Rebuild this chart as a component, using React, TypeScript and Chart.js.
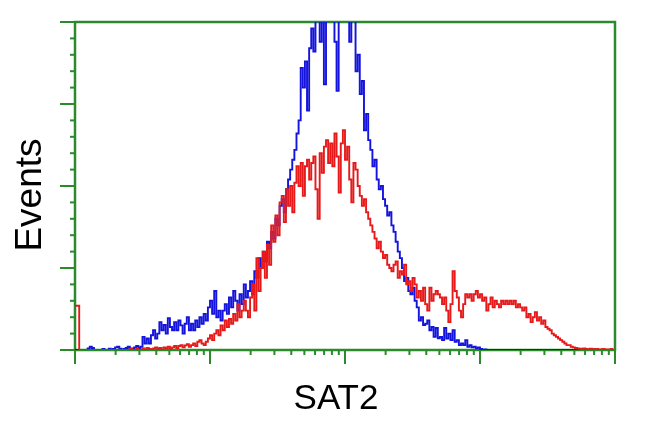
import React, { useEffect, useRef } from "react";
import { Chart, registerables } from "chart.js";

Chart.register(...registerables);

// 256 log-scale channels (64 per decade, 4 decades)
const CHANNELS = 256;
const DECADES = [0, 1, 2, 3, 4];

const redCounts = [
  13.5, 13.5, 0, 0, 0, 0, 0, 0, 0, 0, 0, 0, 0, 0, 0, 0,
  0, 0, 0, 0, 0, 0, 0, 0, 0, 0, 0.3, 0, 0, 0.4, 0, 0,
  0.5, 0, 0.6, 0.3, 0, 0.5, 0.8, 0.3, 0.6, 0, 0.8, 0.5, 1, 0.4, 0.8, 1.2,
  0.6, 1.2, 1.5, 0.8, 1.4, 1.8, 1, 1.5, 2, 1.2, 2.5, 3, 2, 1.5, 2.5, 3.5,
  4.5, 3, 5, 6, 4.5, 7.5, 6, 9, 7, 9.5, 8, 11, 9, 14, 10, 12,
  15, 12, 10, 16, 20, 12, 28, 18, 25, 30, 22, 32, 26, 38, 33, 41,
  35, 45, 47, 39, 49, 44, 50, 42, 51, 56, 50, 57, 47, 56, 58, 52,
  57, 59, 49, 40, 60, 54, 62, 64, 57, 63, 56, 66, 59, 48, 63, 67,
  58, 62, 52, 45, 57, 55, 50, 47, 44, 46, 42, 40, 38, 36, 34, 31,
  33, 30, 28, 29, 26, 25, 24, 26, 27, 22, 24, 23, 26, 20, 21, 18,
  22, 20, 16, 18, 15, 19, 14, 12, 19, 15, 17, 18, 17, 16, 14, 16,
  12, 8.5, 14, 24, 18, 16, 12, 10, 14, 17, 16, 17, 15, 17, 18, 16,
  17, 15, 16, 12, 14, 16, 13, 15, 14, 13, 15, 14, 15, 14, 15, 14,
  15, 13, 14, 13, 12, 13, 10, 11, 8.5, 10, 11.5, 9, 10, 8, 9, 7,
  6.5, 6, 5, 4.5, 4, 3.5, 3, 2.5, 2, 1.5, 1.5, 1, 0.8, 0.6, 0.5, 0.4,
  0.3, 0.5, 0.3, 0.2, 0.4, 0.3, 0.2, 0.3, 0.2, 0.2, 0.3, 0.2, 0.1, 0.2, 0.3, 0.4,
];

const blueCounts = [
  0, 0, 0, 0, 0, 0, 0.5, 1, 0.6, 0, 0, 0, 0, 0.3, 0, 0,
  0.4, 0, 0.3, 0.8, 1, 0.4, 0, 0.3, 0.6, 1, 0.5, 0.3, 0.8, 1.2, 0.6, 1,
  4, 2, 3.5, 2, 4.5, 6, 3.5, 5, 8.5, 6, 7.6, 5, 9.7, 7, 6, 8.5,
  6, 9, 7.5, 5, 8, 10, 6, 8, 6, 9, 7, 10, 8, 11, 9, 13,
  15, 11, 18, 10, 12, 9, 12, 14, 11, 16, 13, 18, 15, 12, 17, 14,
  20, 16, 18, 21, 17, 24, 22, 28, 25, 30, 27, 33, 31, 36, 34, 40,
  38, 44, 46, 42, 49, 52, 55, 58, 61, 66, 70, 86, 80, 88, 73, 92,
  98, 91, 105, 110, 94, 108, 81, 112, 115, 104, 110, 94, 79, 112, 118, 108,
  115, 110, 94, 112, 102, 85, 90, 78, 82, 67, 72, 64, 61, 56, 58, 52,
  49, 50, 46, 44, 41, 42, 38, 36, 33, 30, 28, 25, 21, 22, 18, 17,
  19, 15, 13, 9, 10, 7.6, 8, 9, 6, 7, 4, 6.7, 3.6, 4, 3, 6.7,
  3.5, 5, 3, 6, 2.5, 3, 1.5, 2, 1.5, 3, 1, 1.5, 0.8, 1, 0.5, 0.8,
  0.3, 0, 0.2, 0, 0, 0, 0, 0, 0, 0, 0, 0, 0, 0, 0, 0,
  0, 0, 0, 0, 0, 0, 0, 0, 0, 0, 0, 0, 0, 0, 0, 0,
  0, 0, 0, 0, 0, 0, 0, 0, 0, 0, 0, 0, 0, 0, 0, 0,
  0, 0, 0, 0, 0, 0, 0, 0, 0, 0, 0, 0, 0, 0, 0, 0,
];

const yMajorTicks = [0, 25, 50, 75, 100];
const yMinorStep = 5;
const xTitle = "SAT2";
const yTitle = "Events";

const GREEN = "#2b8a2b";
const BLUE = "#1414dc";
const RED = "#e61a1a";

const axesPlugin = {
  id: "flowAxes",
  beforeDatasetsDraw(chart: any) {
    const { ctx, chartArea, scales } = chart;
    const xs = scales.x;
    const ys = scales.y;
    ctx.save();
    ctx.strokeStyle = GREEN;
    ctx.lineWidth = 2.5;
    ctx.strokeRect(chartArea.left, chartArea.top, chartArea.right - chartArea.left, chartArea.bottom - chartArea.top);
    ctx.lineWidth = 2;
    for (let v = 0; v <= 100; v += yMinorStep) {
      const py = ys.getPixelForValue(v);
      const major = yMajorTicks.includes(v);
      ctx.beginPath();
      ctx.moveTo(chartArea.left, py);
      ctx.lineTo(chartArea.left - (major ? 15 : 5), py);
      ctx.stroke();
    }
    const chPerDecade = CHANNELS / (DECADES.length - 1);
    DECADES.forEach((d, i) => {
      const px = xs.getPixelForValue(d * chPerDecade);
      ctx.beginPath();
      ctx.moveTo(px, chartArea.bottom);
      ctx.lineTo(px, chartArea.bottom + 14);
      ctx.stroke();
      if (i < DECADES.length - 1) {
        for (let k = 2; k <= 9; k++) {
          const mx = xs.getPixelForValue((d + Math.log10(k)) * chPerDecade);
          ctx.beginPath();
          ctx.moveTo(mx, chartArea.bottom);
          ctx.lineTo(mx, chartArea.bottom + 5);
          ctx.stroke();
        }
      }
    });
    ctx.restore();
  },
  afterDraw(chart: any) {
    const { ctx } = chart;
    ctx.save();
    ctx.fillStyle = "#000";
    ctx.font = "37px 'Liberation Sans', Arial, sans-serif";
    ctx.textAlign = "center";
    ctx.textBaseline = "alphabetic";
    ctx.translate(41, 195);
    ctx.rotate(-Math.PI / 2);
    ctx.fillText(yTitle, 0, 0);
    ctx.restore();
    ctx.save();
    ctx.fillStyle = "#000";
    ctx.font = "35px 'Liberation Sans', Arial, sans-serif";
    ctx.textAlign = "center";
    ctx.textBaseline = "alphabetic";
    ctx.fillText(xTitle, 336, 409);
    ctx.restore();
  },
};

export default function App() {
  const ref = useRef<HTMLCanvasElement>(null);
  useEffect(() => {
    if (!ref.current) return;
    const toPts = (arr: number[]) => arr.map((y, i) => ({ x: i, y }));
    const chart = new Chart(ref.current, {
      type: "line",
      data: {
        datasets: [
          {
            label: "red",
            data: toPts(redCounts),
            borderColor: RED,
            borderWidth: 1.9,
            pointRadius: 0,
            stepped: true,
            fill: false,
          },
          {
            label: "blue",
            data: toPts(blueCounts),
            borderColor: BLUE,
            borderWidth: 1.9,
            pointRadius: 0,
            stepped: true,
            fill: false,
          },
        ],
      },
      options: {
        animation: false,
        responsive: false,
        events: [],
        layout: { padding: { left: 75, right: 35, top: 22, bottom: 82 } },
        plugins: { legend: { display: false }, tooltip: { enabled: false } },
        scales: {
          x: { type: "linear", min: 0, max: CHANNELS, display: false },
          y: { type: "linear", min: 0, max: 100, display: false },
        },
      },
      plugins: [axesPlugin],
    });
    return () => chart.destroy();
  }, []);
  return (
    <div style={{ position: "absolute", left: 0, top: 0, width: 650, height: 432, background: "#fff" }}>
      <canvas ref={ref} width={650} height={432} style={{ width: 650, height: 432 }} />
    </div>
  );
}
